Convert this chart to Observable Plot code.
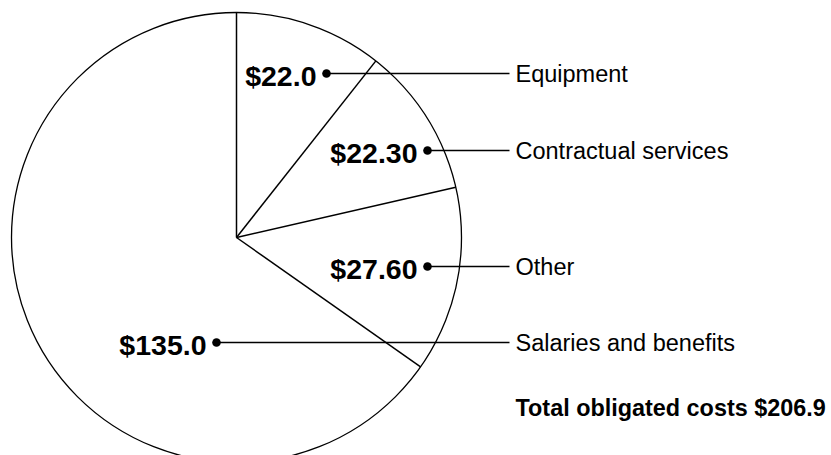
<!DOCTYPE html>
<html>
<head>
<meta charset="utf-8">
<script src="https://cdn.jsdelivr.net/npm/d3@7"></script>
<script src="https://cdn.jsdelivr.net/npm/@observablehq/plot@0.6"></script>
<style>
  html, body { margin: 0; padding: 0; background: #fff; overflow: hidden; }
  #chart svg { display: block; }
</style>
</head>
<body>
<div id="chart"></div>
<script>
// ---- data ----
const categories = ["Equipment", "Contractual services", "Other", "Salaries and benefits"];
const values = [22.0, 22.3, 27.6, 135.0];
const valueLabels = ["$22.0", "$22.30", "$27.60", "$135.0"];
const totalLabel = "Total obligated costs $206.9";

// ---- layout (pixel space) ----
const W = 831, H = 455;
const cx = 236, cy = 237, R = 225;
const labelRowY = [73, 150, 266, 342];
const dotX = [326, 427, 427, 216];
const leaderEndX = 509;
const catX = 515;
const font = "'Liberation Sans', Arial, Helvetica, sans-serif";

const arcs = d3.pie().sort(null).value(d => d)(values);
const slices = arcs.map((a, i) => ({
  category: categories[i],
  value: values[i],
  label: valueLabels[i],
  start: a.startAngle,
  y: labelRowY[i],
  dx: dotX[i]
}));

const chart = Plot.plot({
  width: W,
  height: H,
  margin: 0,
  x: {type: "identity", axis: null},
  y: {type: "identity", axis: null},
  style: {fontFamily: font, background: "#fff", color: "#000"},
  marks: [
    // pie outline
    Plot.dot([0], {x: () => cx, y: () => cy, r: R, stroke: "#000", strokeWidth: 1.3, fill: "none"}),
    // slice boundaries
    Plot.link(slices, {
      x1: () => cx, y1: () => cy,
      x2: d => cx + R * Math.sin(d.start),
      y2: d => cy - R * Math.cos(d.start),
      stroke: "#000", strokeWidth: 1.5
    }),
    // leader lines
    Plot.link(slices, {x1: "dx", y1: "y", x2: () => leaderEndX, y2: "y", stroke: "#000", strokeWidth: 1.3}),
    Plot.dot(slices, {x: "dx", y: "y", r: 4.3, fill: "#000", stroke: "none"}),
    // value labels
    Plot.text(slices, {
      x: d => d.dx - 10, y: "y", text: "label",
      textAnchor: "end", lineAnchor: "middle", dy: 3.4,
      fontSize: 28.5, fontWeight: "bold", fill: "#000"
    }),
    // category labels
    Plot.text(slices, {
      x: () => catX, y: "y", text: "category",
      textAnchor: "start", lineAnchor: "middle", dy: 1,
      fontSize: 23.5, fill: "#000"
    }),
    // total
    Plot.text([totalLabel], {
      x: () => catX, y: () => 408.3, text: d => d,
      textAnchor: "start", lineAnchor: "middle",
      fontSize: 23.4, fontWeight: "bold", fill: "#000"
    })
  ]
});
document.getElementById("chart").append(chart);
</script>
</body>
</html>
